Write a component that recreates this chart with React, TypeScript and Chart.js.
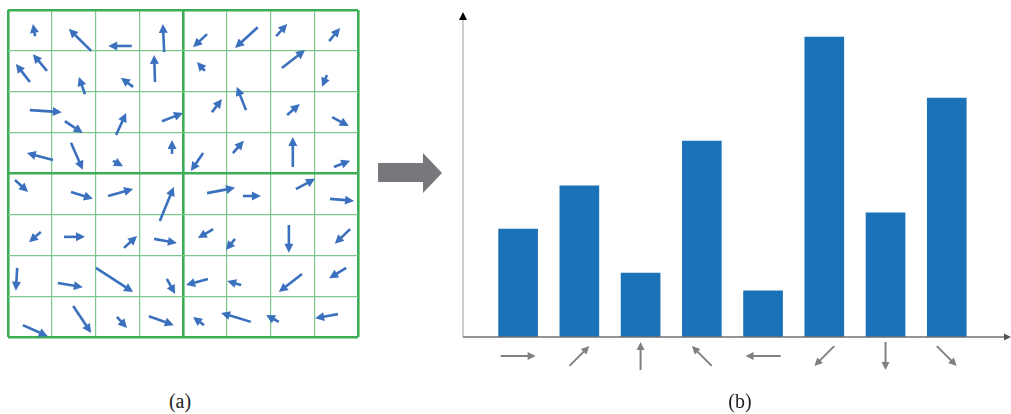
import React, { useEffect, useRef } from "react";
import { Chart, registerables } from "chart.js";

Chart.register(...registerables);

// Gradient vectors of the 8x8 cell image, one list per 4x4 block.
// Each entry: [tailX, tailY, headX, headY] in cell units, y growing downward.
const blockTopLeft: number[][] = [
  [0.62, 0.64, 0.57, 0.34],
  [1.9, 1.0, 1.39, 0.46],
  [2.83, 0.88, 2.29, 0.88],
  [3.57, 1.03, 3.54, 0.34],
  [0.89, 1.49, 0.57, 1.08],
  [0.5, 1.76, 0.18, 1.32],
  [1.76, 2.06, 1.62, 1.64],
  [2.86, 1.88, 2.58, 1.66],
  [3.36, 1.76, 3.34, 1.1],
  [0.5, 2.45, 1.23, 2.5],
  [1.3, 2.72, 1.71, 3.01],
  [2.47, 3.06, 2.7, 2.52],
  [3.52, 2.72, 4.0, 2.52],
  [1.03, 3.67, 0.43, 3.5],
  [1.44, 3.25, 1.71, 3.91],
  [2.4, 3.69, 2.63, 3.82],
  [3.75, 3.52, 3.75, 3.18],
];

const blockTopRight: number[][] = [
  [4.55, 0.59, 4.23, 0.91],
  [5.71, 0.42, 5.19, 0.93],
  [6.13, 0.64, 6.38, 0.34],
  [7.34, 0.76, 7.59, 0.44],
  [4.5, 1.49, 4.32, 1.27],
  [6.26, 1.42, 6.79, 0.98],
  [7.29, 1.59, 7.18, 1.88],
  [4.66, 2.5, 4.89, 2.18],
  [5.44, 2.45, 5.23, 1.88],
  [6.38, 2.57, 6.67, 2.3],
  [7.41, 2.62, 7.79, 2.84],
  [4.46, 3.5, 4.18, 3.94],
  [5.14, 3.5, 5.39, 3.2],
  [6.51, 3.84, 6.51, 3.11],
  [7.45, 3.84, 7.82, 3.69],
];

const blockBottomLeft: number[][] = [
  [0.16, 4.16, 0.46, 4.45],
  [1.44, 4.45, 1.94, 4.62],
  [2.29, 4.55, 2.86, 4.38],
  [3.47, 5.16, 3.79, 4.33],
  [0.75, 5.43, 0.48, 5.68],
  [1.28, 5.55, 1.76, 5.55],
  [2.65, 5.82, 2.95, 5.53],
  [3.34, 5.6, 3.86, 5.7],
  [0.21, 6.31, 0.18, 6.87],
  [1.14, 6.68, 1.71, 6.78],
  [2.01, 6.31, 2.86, 6.9],
  [3.63, 6.58, 3.82, 6.95],
  [0.34, 7.71, 0.91, 7.98],
  [1.49, 7.24, 1.9, 7.9],
  [2.49, 7.51, 2.72, 7.78],
  [3.22, 7.49, 3.79, 7.71],
];

const blockBottomRight: number[][] = [
  [4.55, 4.48, 5.19, 4.35],
  [5.37, 4.55, 5.78, 4.55],
  [6.58, 4.38, 7.02, 4.13],
  [7.36, 4.62, 7.91, 4.67],
  [4.69, 5.36, 4.34, 5.58],
  [5.19, 5.6, 4.98, 5.87],
  [6.42, 5.26, 6.42, 5.94],
  [7.82, 5.36, 7.47, 5.72],
  [4.57, 6.58, 4.07, 6.73],
  [5.33, 6.73, 5.01, 6.63],
  [6.72, 6.46, 6.19, 6.9],
  [7.73, 6.31, 7.34, 6.56],
  [4.48, 7.71, 4.23, 7.51],
  [5.55, 7.63, 4.87, 7.41],
  [6.19, 7.63, 5.9, 7.46],
  [7.54, 7.44, 7.02, 7.54],
];

// Orientation histogram: bin directions (degrees) and their magnitudes.
const binAngles = [0, 45, 90, 135, 180, 225, 270, 315];
const binMagnitudes = [3.32, 4.65, 1.97, 6.03, 1.42, 9.23, 3.82, 7.35];

const GRID_CELLS = 8;
const MAGNITUDE_MAX = 10;

const VECTOR_BLUE = "#3A70BE";
const BAR_BLUE = "#1B72B8";
const GLYPH_GREY = "#808080";

function drawArrow(
  ctx: CanvasRenderingContext2D,
  x0: number,
  y0: number,
  x1: number,
  y1: number,
  color: string,
  lineWidth: number,
  headLen: number,
  headWidth: number
) {
  const dx = x1 - x0;
  const dy = y1 - y0;
  const len = Math.hypot(dx, dy) || 1;
  const ux = dx / len;
  const uy = dy / len;
  const bx = x1 - ux * headLen;
  const by = y1 - uy * headLen;
  ctx.strokeStyle = color;
  ctx.fillStyle = color;
  ctx.lineWidth = lineWidth;
  ctx.lineCap = "butt";
  if (len > headLen) {
    ctx.beginPath();
    ctx.moveTo(x0, y0);
    ctx.lineTo(bx + ux * 0.5, by + uy * 0.5);
    ctx.stroke();
  }
  ctx.beginPath();
  ctx.moveTo(x1, y1);
  ctx.lineTo(bx - (uy * headWidth) / 2, by + (ux * headWidth) / 2);
  ctx.lineTo(bx + (uy * headWidth) / 2, by - (ux * headWidth) / 2);
  ctx.closePath();
  ctx.fill();
}

// Draws each gradient vector of the cell grid as an arrow.
const vectorArrows = {
  id: "vectorArrows",
  afterDatasetsDraw(chart: any) {
    const { ctx } = chart;
    const { x, y } = chart.scales;
    ctx.save();
    chart.data.datasets[0].data.forEach((p: any) => {
      drawArrow(
        ctx,
        x.getPixelForValue(p.x),
        y.getPixelForValue(p.y),
        x.getPixelForValue(p.hx),
        y.getPixelForValue(p.hy),
        VECTOR_BLUE,
        2.6,
        9,
        9
      );
    });
    ctx.restore();
  },
};

// Axis lines with arrow tips, plus a direction glyph under every bin.
const histogramAxes = {
  id: "histogramAxes",
  afterDatasetsDraw(chart: any) {
    const { ctx, chartArea } = chart;
    const { left, right, top, bottom } = chartArea;
    const xScale = chart.scales.x;
    ctx.save();

    // vertical axis
    ctx.strokeStyle = "#BDBDBD";
    ctx.lineWidth = 1.5;
    ctx.beginPath();
    ctx.moveTo(left, bottom);
    ctx.lineTo(left, top + 7);
    ctx.stroke();
    ctx.fillStyle = "#000000";
    ctx.beginPath();
    ctx.moveTo(left, top);
    ctx.lineTo(left - 4, top + 8);
    ctx.lineTo(left + 4, top + 8);
    ctx.closePath();
    ctx.fill();

    // horizontal axis
    ctx.strokeStyle = "#707070";
    ctx.lineWidth = 1.4;
    ctx.beginPath();
    ctx.moveTo(left, bottom);
    ctx.lineTo(right, bottom);
    ctx.stroke();
    ctx.fillStyle = "#555555";
    ctx.beginPath();
    ctx.moveTo(right + 3, bottom);
    ctx.lineTo(right - 4, bottom - 3.5);
    ctx.lineTo(right - 4, bottom + 3.5);
    ctx.closePath();
    ctx.fill();

    // direction glyphs as tick labels
    binAngles.forEach((deg, i) => {
      const cx = xScale.getPixelForValue(i);
      const cy = bottom + 19;
      const rad = (deg * Math.PI) / 180;
      const half = (deg % 180 === 0 ? 35 : 28) / 2;
      const c = Math.cos(rad);
      const s = Math.sin(rad);
      drawArrow(ctx, cx - c * half, cy + s * half, cx + c * half, cy - s * half, GLYPH_GREY, 2, 8, 8);
    });

    ctx.restore();
  },
};

const hiddenAxisParts = {
  ticks: { display: false },
  border: { display: false },
};

export default function App() {
  const gridRef = useRef<HTMLCanvasElement>(null);
  const histRef = useRef<HTMLCanvasElement>(null);

  useEffect(() => {
    const vectors = [...blockTopLeft, ...blockTopRight, ...blockBottomLeft, ...blockBottomRight];

    const gridLineColor = (c: any) => (c.tick && c.tick.value % 4 === 0 ? "#3DAE55" : "#7CC78B");
    const gridLineWidth = (c: any) => (c.tick && c.tick.value % 4 === 0 ? 2.6 : 1.2);

    const gridChart = new Chart(gridRef.current as HTMLCanvasElement, {
      type: "scatter",
      data: {
        datasets: [
          {
            data: vectors.map(([x, y, hx, hy]) => ({ x, y, hx, hy })) as any,
            pointRadius: 0,
            pointHoverRadius: 0,
          },
        ],
      },
      options: {
        responsive: false,
        animation: false,
        events: [],
        layout: { padding: { left: 8, top: 10, right: 12, bottom: 8 } },
        plugins: { legend: { display: false }, tooltip: { enabled: false } },
        scales: {
          x: {
            type: "linear",
            min: 0,
            max: GRID_CELLS,
            ticks: { display: false, stepSize: 1 },
            border: { display: false },
            grid: { drawTicks: false, color: gridLineColor, lineWidth: gridLineWidth },
          },
          y: {
            type: "linear",
            min: 0,
            max: GRID_CELLS,
            reverse: true,
            ticks: { display: false, stepSize: 1 },
            border: { display: false },
            grid: { drawTicks: false, color: gridLineColor, lineWidth: gridLineWidth },
          },
        },
      } as any,
      plugins: [vectorArrows],
    });

    const histChart = new Chart(histRef.current as HTMLCanvasElement, {
      type: "bar",
      data: {
        datasets: [
          {
            data: binMagnitudes.map((v, i) => ({ x: i, y: v })) as any,
            backgroundColor: BAR_BLUE,
            borderWidth: 0,
            barThickness: 39,
          },
        ],
      },
      options: {
        responsive: false,
        animation: false,
        events: [],
        layout: { padding: { left: 23, top: 12, right: 3, bottom: 77 } },
        plugins: { legend: { display: false }, tooltip: { enabled: false } },
        scales: {
          x: {
            type: "linear",
            min: -0.9,
            max: 8,
            offset: false,
            afterBuildTicks: (scale: any) => {
              scale.ticks = binAngles.map((_, i) => ({ value: i }));
            },
            ...hiddenAxisParts,
            grid: { display: false, drawTicks: false, offset: false },
          },
          y: {
            type: "linear",
            min: 0,
            max: MAGNITUDE_MAX,
            ...hiddenAxisParts,
            grid: { display: false, drawTicks: false },
          },
        },
      } as any,
      plugins: [histogramAxes],
    });

    return () => {
      gridChart.destroy();
      histChart.destroy();
    };
  }, []);

  const captionStyle: React.CSSProperties = {
    position: "absolute",
    top: 391,
    width: 60,
    textAlign: "center",
    fontFamily: '"Liberation Serif", "DejaVu Serif", serif',
    fontSize: 20,
    lineHeight: "20px",
    color: "#222222",
  };

  return (
    <div
      style={{
        position: "fixed",
        left: 0,
        top: 0,
        width: 1011,
        height: 414,
        background: "#ffffff",
        overflow: "hidden",
      }}
    >
      <canvas ref={gridRef} width={370} height={345} style={{ position: "absolute", left: 0, top: 0 }} />
      <canvas ref={histRef} width={571} height={414} style={{ position: "absolute", left: 440, top: 0 }} />
      <div
        style={{
          position: "absolute",
          left: 378,
          top: 153,
          width: 64,
          height: 40,
          background: "#77787B",
          clipPath: "polygon(0 10px, 45px 10px, 45px 0, 64px 20px, 45px 40px, 45px 29px, 0 29px)",
        }}
      />
      <div style={{ ...captionStyle, left: 150 }}>(a)</div>
      <div style={{ ...captionStyle, left: 710 }}>(b)</div>
    </div>
  );
}
